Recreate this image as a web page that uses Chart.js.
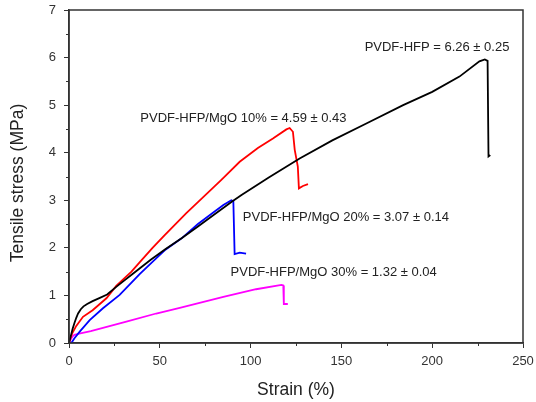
<!DOCTYPE html>
<html>
<head>
<meta charset="utf-8">
<script src="https://cdn.jsdelivr.net/npm/chart.js@4"></script>
<style>
html,body{margin:0;padding:0;background:#fff;}
#wrap{width:536px;height:402px;}
</style>
</head>
<body>
<div id="wrap"><canvas id="c" width="536" height="402"></canvas></div>
<script>
// ---- data ----
const xTicks = [0, 50, 100, 150, 200, 250];
const yTicks = [0, 1, 2, 3, 4, 5, 6, 7];

const pureX = [0, 1, 2, 3, 4, 5, 6.5, 8, 10, 13, 17, 21, 26, 30, 35, 45, 53, 62, 71, 80, 90, 95, 110, 127, 145, 164, 184, 200, 215, 226, 229, 230.5, 231, 232];
const pureY = [0, 0.15, 0.3, 0.42, 0.53, 0.62, 0.71, 0.77, 0.82, 0.88, 0.95, 1.02, 1.18, 1.3, 1.45, 1.75, 1.97, 2.2, 2.45, 2.7, 2.98, 3.11, 3.48, 3.88, 4.26, 4.62, 5.0, 5.28, 5.6, 5.92, 5.96, 5.93, 3.92, 3.95];

const mgo10X = [0, 1, 2, 4, 7.7, 13, 20.6, 26, 34.4, 39, 46, 52.7, 64.6, 71, 83.9, 94, 104, 112.3, 119.7, 121.5, 123.3, 124.3, 126, 126.6, 128.8, 131.6];
const mgo10Y = [0, 0.12, 0.22, 0.36, 0.55, 0.69, 0.94, 1.2, 1.5, 1.7, 2.0, 2.27, 2.73, 2.96, 3.43, 3.81, 4.1, 4.3, 4.49, 4.52, 4.44, 4.06, 3.71, 3.25, 3.3, 3.34];

const mgo20X = [1.3, 3, 5.9, 11.4, 18.7, 27.9, 34.4, 38.9, 48, 52.7, 62, 71, 80, 85, 89.4, 90.5, 91.2, 94, 97.5];
const mgo20Y = [0, 0.1, 0.24, 0.48, 0.73, 1.01, 1.27, 1.45, 1.78, 1.95, 2.2, 2.5, 2.76, 2.9, 3.0, 2.98, 1.87, 1.9, 1.88];

const mgo30X = [0, 1, 2, 3, 5, 12, 31.6, 48, 61, 85, 103, 117, 118, 118.3, 120.5];
const mgo30Y = [0, 0.08, 0.14, 0.17, 0.19, 0.25, 0.45, 0.62, 0.74, 0.97, 1.13, 1.22, 1.21, 0.82, 0.82];

const seriesNames = ['PVDF-HFP', 'PVDF-HFP/MgO 10%', 'PVDF-HFP/MgO 20%', 'PVDF-HFP/MgO 30%'];
const labelTexts = ['PVDF-HFP = 6.26 \u00b1 0.25', 'PVDF-HFP/MgO 10% = 4.59 \u00b1 0.43', 'PVDF-HFP/MgO 20% = 3.07 \u00b1 0.14', 'PVDF-HFP/MgO 30% = 1.32 \u00b1 0.04'];
const labelX = [162.8, 39.3, 95.7, 89];
const labelY = [6.22, 4.73, 2.63, 1.48];

const xTitle = 'Strain (%)';
const yTitle = 'Tensile stress (MPa)';

// ---- build ----
function pts(xs, ys) { return xs.map((x, i) => ({x: x, y: ys[i]})); }
const colors = ['#000000', '#ff0000', '#0000ff', '#ff00ff'];
const allX = [pureX, mgo10X, mgo20X, mgo30X];
const allY = [pureY, mgo10Y, mgo20Y, mgo30Y];

const FONT = '"Liberation Sans", Arial, sans-serif';
const AX = '#333333';

const decor = {
  id: 'decor',
  afterDraw(chart) {
    const {ctx, chartArea: a, scales: {x, y}} = chart;
    ctx.save();
    // minor ticks
    ctx.strokeStyle = AX; ctx.lineWidth = 1;
    for (let i = 0; i < xTicks.length - 1; i++) {
      const v = (xTicks[i] + xTicks[i + 1]) / 2;
      const px = Math.round(x.getPixelForValue(v)) + 0.5;
      ctx.beginPath(); ctx.moveTo(px, a.bottom); ctx.lineTo(px, a.bottom + 3); ctx.stroke();
    }
    for (let i = 0; i < yTicks.length - 1; i++) {
      const v = (yTicks[i] + yTicks[i + 1]) / 2;
      const py = Math.round(y.getPixelForValue(v)) + 0.5;
      ctx.beginPath(); ctx.moveTo(a.left, py); ctx.lineTo(a.left - 3, py); ctx.stroke();
    }
    // frame
    ctx.lineWidth = 1.5; ctx.strokeStyle = AX;
    ctx.strokeRect(a.left, a.top, a.right - a.left, a.bottom - a.top);
    // annotations
    ctx.fillStyle = '#222222';
    ctx.font = '13px ' + FONT;
    ctx.textAlign = 'left'; ctx.textBaseline = 'middle';
    for (let i = 0; i < labelTexts.length; i++) {
      ctx.fillText(labelTexts[i], x.getPixelForValue(labelX[i]), y.getPixelForValue(labelY[i]));
    }
    // axis titles
    ctx.fillStyle = '#222222';
    ctx.font = '17.5px ' + FONT;
    ctx.textAlign = 'center';
    ctx.fillText(xTitle, (a.left + a.right) / 2, 390);
    ctx.save();
    ctx.translate(18.5, 183);
    ctx.rotate(-Math.PI / 2);
    ctx.fillText(yTitle, 0, 0);
    ctx.restore();
    ctx.restore();
  }
};

new Chart(document.getElementById('c'), {
  type: 'scatter',
  data: {
    datasets: seriesNames.map((n, i) => ({
      label: n,
      data: pts(allX[i], allY[i]),
      showLine: true,
      borderColor: colors[i],
      backgroundColor: colors[i],
      borderWidth: 1.8,
      pointRadius: 0,
      tension: 0
    }))
  },
  options: {
    responsive: false,
    animation: false,
    devicePixelRatio: 1,
    layout: {padding: {left: 0, right: 13, top: 10, bottom: 0}},
    plugins: {legend: {display: false}, tooltip: {enabled: false}},
    scales: {
      x: {
        type: 'linear', min: 0, max: 250,
        afterFit(s) { s.height = 59; s.paddingLeft = 0; s.paddingRight = 0; },
        afterBuildTicks(s) { s.ticks = xTicks.map(v => ({value: v})); },
        ticks: {color: AX, font: {family: FONT, size: 13}, padding: 6, maxRotation: 0},
        grid: {drawOnChartArea: false, drawTicks: true, tickLength: 5, tickColor: AX, tickWidth: 1},
        border: {display: true, color: AX, width: 1.5}
      },
      y: {
        type: 'linear', min: 0, max: 7,
        afterFit(s) { s.width = 69; s.paddingTop = 0; s.paddingBottom = 0; },
        afterBuildTicks(s) { s.ticks = yTicks.map(v => ({value: v})); },
        ticks: {color: AX, font: {family: FONT, size: 13}, padding: 8},
        grid: {drawOnChartArea: false, drawTicks: true, tickLength: 5, tickColor: AX, tickWidth: 1},
        border: {display: true, color: AX, width: 1.5}
      }
    }
  },
  plugins: [decor]
});
</script>
</body>
</html>
